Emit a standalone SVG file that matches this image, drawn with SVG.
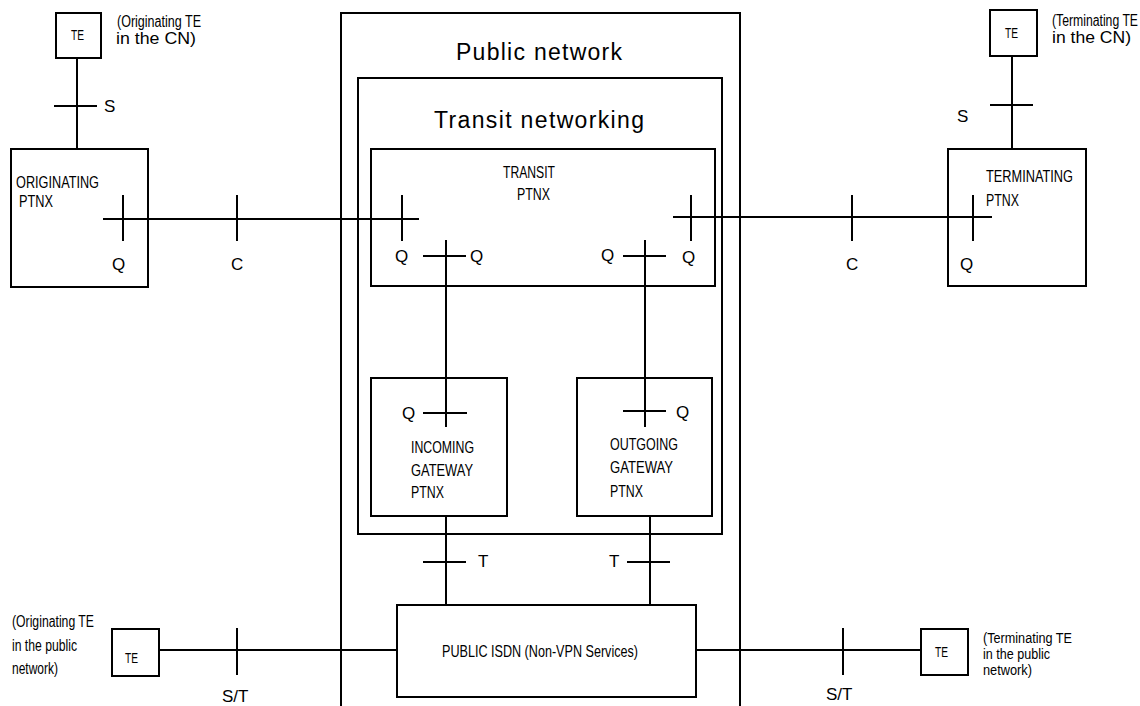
<svg xmlns="http://www.w3.org/2000/svg" width="1140" height="706" viewBox="0 0 1140 706">
<style>
.box{fill:none;stroke:#000;stroke-width:2}
.ln{fill:none;stroke:#000;stroke-width:2}
text{font-family:"Liberation Sans",Arial,sans-serif;fill:#000}
.lbl{font-size:17px}
.sm{font-size:17px}
.note{font-size:16px}
.tiny{font-size:14px}
.te{font-size:14px}
.title{font-size:23px}
</style>
<rect width="1140" height="706" fill="#fff"/>

<g id="public-network">
<path class="box" d="M341,712 V13 H740 V712"/>
<text class="title" x="456" y="60" textLength="166" lengthAdjust="spacing">Public network</text>
</g>
<g id="transit-networking">
<rect class="box" x="358" y="78" width="364" height="456"/>
<text class="title" x="434" y="128" textLength="210" lengthAdjust="spacing">Transit networking</text>
</g>
<g id="transit-ptnx">
<rect class="box" x="371" y="149" width="344" height="137"/>
<text class="sm" x="503" y="178" textLength="52" lengthAdjust="spacingAndGlyphs">TRANSIT</text>
<text class="sm" x="517" y="200" textLength="33" lengthAdjust="spacingAndGlyphs">PTNX</text>
</g>
<g id="incoming-gateway">
<rect class="box" x="371" y="378" width="136" height="138"/>
<text class="sm" x="411" y="453" textLength="63" lengthAdjust="spacingAndGlyphs">INCOMING</text>
<text class="sm" x="411" y="476" textLength="62" lengthAdjust="spacingAndGlyphs">GATEWAY</text>
<text class="sm" x="411" y="498" textLength="33" lengthAdjust="spacingAndGlyphs">PTNX</text>
</g>
<g id="outgoing-gateway">
<rect class="box" x="577" y="378" width="135" height="138"/>
<text class="sm" x="610" y="450" textLength="68" lengthAdjust="spacingAndGlyphs">OUTGOING</text>
<text class="sm" x="610" y="473" textLength="63" lengthAdjust="spacingAndGlyphs">GATEWAY</text>
<text class="sm" x="610" y="497" textLength="33" lengthAdjust="spacingAndGlyphs">PTNX</text>
</g>
<g id="public-isdn">
<rect class="box" x="397" y="605" width="299" height="92"/>
<text class="sm" x="442" y="657" textLength="196" lengthAdjust="spacingAndGlyphs">PUBLIC ISDN (Non-VPN Services)</text>
</g>
<g id="originating-ptnx">
<rect class="box" x="11" y="149" width="137" height="138"/>
<text class="sm" x="16" y="188" textLength="83" lengthAdjust="spacingAndGlyphs">ORIGINATING</text>
<text class="sm" x="19" y="207" textLength="34" lengthAdjust="spacingAndGlyphs">PTNX</text>
</g>
<g id="terminating-ptnx">
<rect class="box" x="948" y="149" width="138" height="137"/>
<text class="sm" x="986" y="182" textLength="87" lengthAdjust="spacingAndGlyphs">TERMINATING</text>
<text class="sm" x="986" y="206" textLength="33" lengthAdjust="spacingAndGlyphs">PTNX</text>
</g>
<g id="te-orig-cn">
<rect class="box" x="56" y="13" width="45" height="45"/>
<text class="te" x="71" y="40" textLength="13" lengthAdjust="spacingAndGlyphs">TE</text>
<text class="note" x="117" y="27" textLength="84" lengthAdjust="spacingAndGlyphs">(Originating TE</text>
<text class="note" x="116" y="44" textLength="80" lengthAdjust="spacingAndGlyphs">in the CN)</text>
</g>
<g id="te-term-cn">
<rect class="box" x="990" y="10" width="47" height="46"/>
<text class="te" x="1005" y="38" textLength="13" lengthAdjust="spacingAndGlyphs">TE</text>
<text class="note" x="1052" y="26" textLength="86" lengthAdjust="spacingAndGlyphs">(Terminating TE</text>
<text class="note" x="1052" y="43" textLength="79" lengthAdjust="spacingAndGlyphs">in the CN)</text>
</g>
<g id="te-orig-public">
<rect class="box" x="112" y="629" width="47" height="47"/>
<text class="te" x="125" y="663" textLength="13" lengthAdjust="spacingAndGlyphs">TE</text>
<text class="note" x="12" y="627" textLength="82" lengthAdjust="spacingAndGlyphs">(Originating TE</text>
<text class="note" x="12" y="651" textLength="65" lengthAdjust="spacingAndGlyphs">in the public</text>
<text class="note" x="12" y="674" textLength="46" lengthAdjust="spacingAndGlyphs">network)</text>
</g>
<g id="te-term-public">
<rect class="box" x="921" y="629" width="47" height="46"/>
<text class="te" x="935" y="657" textLength="13" lengthAdjust="spacingAndGlyphs">TE</text>
<text class="tiny" x="983" y="643" textLength="89" lengthAdjust="spacingAndGlyphs">(Terminating TE</text>
<text class="tiny" x="983" y="659" textLength="67" lengthAdjust="spacingAndGlyphs">in the public</text>
<text class="tiny" x="983" y="675" textLength="49" lengthAdjust="spacingAndGlyphs">network)</text>
</g>

<g id="connectors">
<path class="ln" d="M77,58 V149 M54,106 H97"/>
<path class="ln" d="M1012,56 V149 M990,105 H1033"/>
<path class="ln" d="M103,219 H419 M123,195 V241 M237,195 V241 M402,195 V241"/>
<path class="ln" d="M673,217 H992 M691,195 V241 M852,195 V241 M973,195 V241"/>
<path class="ln" d="M446,240 V427 M423,256 H466 M423,413 H467"/>
<path class="ln" d="M645,240 V427 M623,256 H666 M623,411 H666"/>
<path class="ln" d="M446,516 V605 M423,562 H466"/>
<path class="ln" d="M650,516 V605 M627,562 H670"/>
<path class="ln" d="M159,650 H397 M237,628 V675"/>
<path class="ln" d="M696,650 H921 M843,628 V675"/>
</g>

<g id="interface-labels" class="lbl">
<text x="104" y="112">S</text>
<text x="957" y="122">S</text>
<text x="112" y="270">Q</text>
<text x="231" y="270">C</text>
<text x="960" y="270">Q</text>
<text x="846" y="270">C</text>
<text x="395" y="262">Q</text>
<text x="470" y="262">Q</text>
<text x="601" y="261">Q</text>
<text x="682" y="263">Q</text>
<text x="402" y="419">Q</text>
<text x="676" y="418">Q</text>
<text x="478" y="567">T</text>
<text x="609" y="567">T</text>
<text x="222" y="702">S/T</text>
<text x="826" y="700">S/T</text>
</g>
</svg>
